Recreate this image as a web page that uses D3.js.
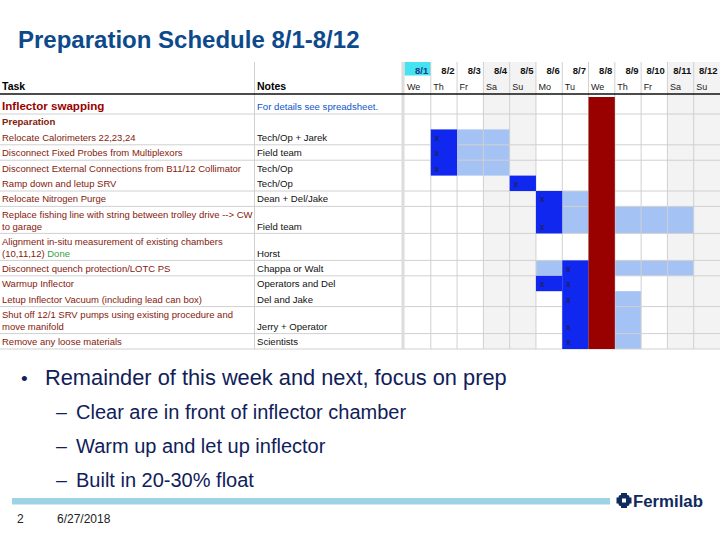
<!DOCTYPE html>
<html><head><meta charset="utf-8">
<script src="https://cdn.jsdelivr.net/npm/d3@7"></script>
<style>body{margin:0;background:#fff}svg{display:block}text{font-family:Arial,"Liberation Sans",sans-serif}</style>
</head><body><svg id="c" width="720" height="540"></svg>
<script>
// ---------- data ----------
const title = "Preparation Schedule 8/1-8/12";
const dates = ["8/1","8/2","8/3","8/4","8/5","8/6","8/7","8/8","8/9","8/10","8/11","8/12"];
const weekdays = ["We","Th","Fr","Sa","Su","Mo","Tu","We","Th","Fr","Sa","Su"];
const weekendDays = ["8/4","8/5","8/11","8/12"];
const todayDate = "8/1";
const tasks = [
  ["Inflector swapping"],
  ["Preparation"],
  ["Relocate Calorimeters 22,23,24"],
  ["Disconnect Fixed Probes from Multiplexors"],
  ["Disconnect External Connections from B11/12 Collimator"],
  ["Ramp down and letup SRV"],
  ["Relocate Nitrogen Purge"],
  ["Replace fishing line with string between trolley drive --> CW","to garage"],
  ["Alignment in-situ measurement of existing chambers","(10,11,12) |Done"],
  ["Disconnect quench protection/LOTC PS"],
  ["Warmup Inflector"],
  ["Letup Inflector Vacuum (including lead can box)"],
  ["Shut off 12/1 SRV pumps using existing procedure and","move manifold"],
  ["Remove any loose materials"]
];
const notes = ["For details see spreadsheet.","","Tech/Op + Jarek","Field team","Tech/Op","Tech/Op","Dean + Del/Jake","Field team","Horst","Chappa or Walt","Operators and Del","Del and Jake","Jerry + Operator","Scientists"];
const rowBorders = [1,0,1,1,0,1,1,1,1,1,0,1,1,1];
// scheduled work (dark blue): [firstRow, lastRow, firstDate, lastDate]
const workBars = [[2,4,"8/2","8/2"],[5,5,"8/5","8/5"],[6,7,"8/6","8/6"],[9,13,"8/7","8/7"],[10,10,"8/6","8/6"]];
// float (light blue)
const floatBars = [[2,4,"8/3","8/4"],[6,7,"8/7","8/7"],[7,7,"8/9","8/11"],[9,9,"8/6","8/6"],[9,9,"8/9","8/11"],[11,13,"8/9","8/9"]];
// milestone column
const milestone = "8/8";
// x marks: [row, date]
const marks = [[2,"8/2"],[3,"8/2"],[4,"8/2"],[5,"8/5"],[6,"8/6"],[7,"8/6"],[9,"8/7"],[10,"8/6"],[10,"8/7"],[11,"8/7"],[12,"8/7"],[13,"8/7"]];
const bullets = [
  {level:0, text:"Remainder of this week and next, focus on prep"},
  {level:1, text:"Clear are in front of inflector chamber"},
  {level:1, text:"Warm up and let up inflector"},
  {level:1, text:"Built in 20-30% float"}
];
const pageNumber = "2";
const footerDate = "6/27/2018";

// ---------- layout ----------
const svg = d3.select("#c");
const top0 = 62, headLine = 94, bodyTop = 95;
const gx0 = 404.5, gx1 = 720;
const x = d3.scaleBand().domain(dates).range([gx0, gx1]);
const rowH = tasks.map((t,i)=> i===0 ? 19 : (t.length>1 ? 27 : 15.4));
const rowTop = [];
let acc = bodyTop;
rowH.forEach((h,i)=>{rowTop.push(acc); acc += h;});
const bottom = acc;
const yTop = i => rowTop[i], yBot = i => rowTop[i] + rowH[i];

const g = svg.append("g");
g.selectAll("rect.we").data(weekendDays).join("rect")
  .attr("x", d=>x(d)).attr("y", top0).attr("width", x.bandwidth()).attr("height", bottom-top0)
  .attr("fill","#f3f3f3");
g.append("rect").attr("x", x(todayDate)).attr("y", top0).attr("width", x.bandwidth()).attr("height", 13.5).attr("fill","#45e3ef");

g.selectAll("rect.fl").data(floatBars).join("rect")
  .attr("x", d=>x(d[2])).attr("y", d=>yTop(d[0]))
  .attr("width", d=>x(d[3])+x.bandwidth()-x(d[2])).attr("height", d=>yBot(d[1])-yTop(d[0]))
  .attr("fill","#a4c2f4");

rowBorders.forEach((b,i)=>{ if(b) g.append("line").attr("x1",0).attr("x2",720).attr("y1",yBot(i)).attr("y2",yBot(i)).attr("stroke","#d0d0d0").attr("stroke-width",1); });
dates.forEach((d,i)=>{ if(i>0) g.append("line").attr("x1",x(d)).attr("x2",x(d)).attr("y1",top0).attr("y2",bottom).attr("stroke","#d0d0d0"); });
g.append("line").attr("x1",254.5).attr("x2",254.5).attr("y1",top0).attr("y2",bottom).attr("stroke","#d0d0d0");
g.append("rect").attr("x",401.5).attr("y",top0).attr("width",3).attr("height",bottom-top0).attr("fill","#dcdcdc");

g.selectAll("rect.wk").data(workBars).join("rect")
  .attr("x", d=>x(d[2])).attr("y", d=>yTop(d[0]))
  .attr("width", d=>x(d[3])+x.bandwidth()-x(d[2])).attr("height", d=>yBot(d[1])-yTop(d[0]))
  .attr("fill","#1027f0");
g.append("rect").attr("x", x(milestone)).attr("y", bodyTop+2).attr("width", x.bandwidth()).attr("height", bottom-bodyTop-2).attr("fill","#990000");

g.append("line").attr("x1",0).attr("x2",720).attr("y1",headLine).attr("y2",headLine).attr("stroke","#111").attr("stroke-width",1.6);

g.append("text").attr("x",2).attr("y",90).attr("font-size",10.5).attr("font-weight","bold").text("Task");
g.append("text").attr("x",257).attr("y",90).attr("font-size",10.5).attr("font-weight","bold").text("Notes");
g.selectAll("text.dt").data(dates).join("text")
  .attr("x", d=>x(d)+x.bandwidth()-2.5).attr("y",74).attr("text-anchor","end")
  .attr("font-size",9.5).attr("font-weight","bold").attr("fill", d=> d===todayDate ? "#1c3a8a" : "#111").text(d=>d);
g.selectAll("text.wd").data(weekdays).join("text")
  .attr("x", (d,i)=>x(dates[i])+2.5).attr("y",89.5).attr("font-size",9).attr("fill","#222").text(d=>d);

tasks.forEach((lines,i)=>{
  const b = yBot(i);
  const n = lines.length;
  lines.forEach((ln,j)=>{
    const yy = n===1 ? b-4 : (j===0 ? b-15.5 : b-3.5);
    const t = g.append("text").attr("x",2).attr("y",yy)
      .attr("font-size", i===0 ? 11.6 : (i===1 ? 9.6 : 9.5)).attr("font-weight", i<=1 ? "bold" : "normal")
      .attr("fill", i===0 ? "#990000" : "#85200c");
    if (ln.includes("|")) {
      const [a,c] = ln.split("|");
      t.append("tspan").text(a);
      t.append("tspan").attr("fill","#38a13a").text(c);
    } else t.text(ln);
  });
});
notes.forEach((nt,i)=>{
  if(!nt) return;
  g.append("text").attr("x",257).attr("y", yBot(i)-(tasks[i].length>1?3.5:4))
    .attr("font-size",9.6).attr("fill", i===0 ? "#1155cc" : "#111").text(nt);
});
g.selectAll("text.mk").data(marks).join("text")
  .attr("x", d=>x(d[1])+4).attr("y", d=>yBot(d[0])-(tasks[d[0]].length>1?3.5:4))
  .attr("font-size",9).attr("fill","#222").text("x");

svg.append("text").attr("x",18).attr("y",48).attr("font-size",24).attr("font-weight","bold").attr("fill","#0d4a8c").text(title);

const by = [385, 419, 453, 487];
bullets.forEach((b,i)=>{
  if(b.level===0){
    svg.append("text").attr("x",21).attr("y",by[i]).attr("font-size",19).attr("fill","#10205a").text("•");
    svg.append("text").attr("x",45).attr("y",by[i]).attr("font-size",21.8).attr("fill","#10205a").text(b.text);
  } else {
    svg.append("text").attr("x",56).attr("y",by[i]).attr("font-size",19.5).attr("fill","#10205a").text("–");
    svg.append("text").attr("x",76).attr("y",by[i]).attr("font-size",20).attr("fill","#10205a").text(b.text);
  }
});

svg.append("rect").attr("x",12).attr("y",498).attr("width",598).attr("height",6.5).attr("fill","#9ed3e6");
const lg = svg.append("g").attr("transform","translate(624,500.5)").attr("fill","#0f2a5c");
lg.append("rect").attr("x",-3).attr("y",-7.5).attr("width",6).attr("height",15);
lg.append("rect").attr("x",-7.5).attr("y",-3).attr("width",15).attr("height",6);
lg.append("rect").attr("x",-5.5).attr("y",-5.5).attr("width",11).attr("height",11).attr("rx",2);
lg.append("rect").attr("x",-2).attr("y",-2).attr("width",4).attr("height",4).attr("fill","#fff");
svg.append("text").attr("x",633).attr("y",506.5).attr("font-size",16.8).attr("font-weight","bold").attr("fill","#0f2a5c").text("Fermilab");
svg.append("text").attr("x",17).attr("y",523).attr("font-size",12).attr("fill","#222").text(pageNumber);
svg.append("text").attr("x",57).attr("y",523).attr("font-size",12).attr("fill","#222").text(footerDate);
</script></body></html>
